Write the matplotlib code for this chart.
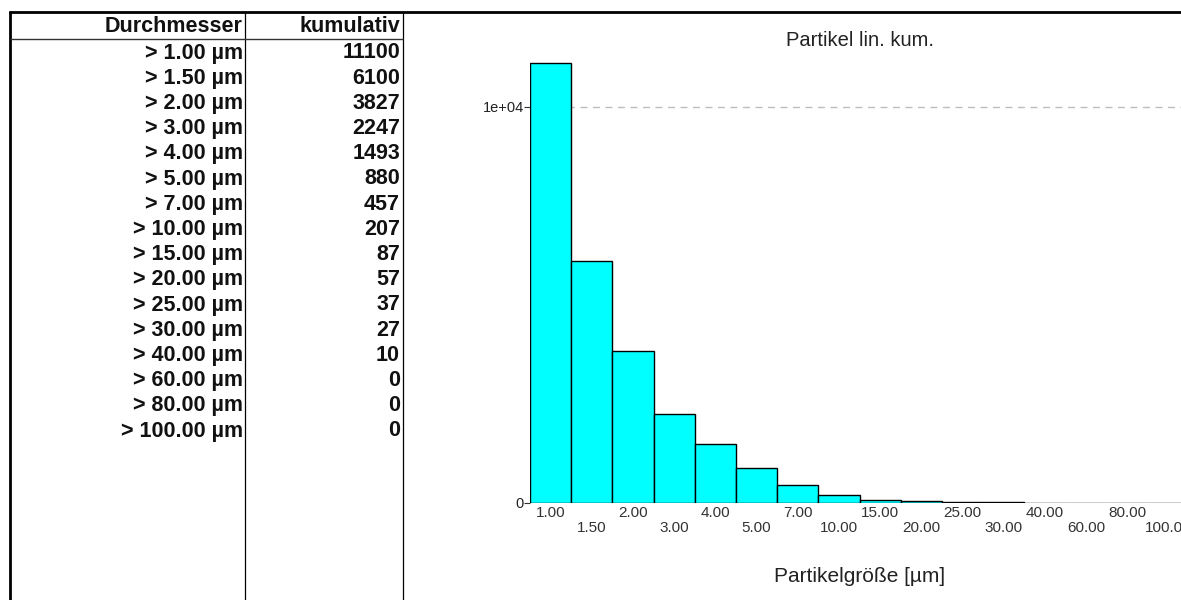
import matplotlib
matplotlib.use("Agg")
import matplotlib.pyplot as plt
from matplotlib.lines import Line2D

plt.rcParams['font.family'] = ['Liberation Sans', 'DejaVu Sans']

# ---- data ----
diameters = ["1.00", "1.50", "2.00", "3.00", "4.00", "5.00", "7.00", "10.00",
             "15.00", "20.00", "25.00", "30.00", "40.00", "60.00", "80.00", "100.00"]
cumulative = [11100, 6100, 3827, 2247, 1493, 880, 457, 207,
              87, 57, 37, 27, 10, 0, 0, 0]
col_headers = ["Durchmesser", "kumulativ"]
title = "Partikel lin. kum."
xlabel = "Partikelgröße [µm]"
ytick_vals = [0, 10000]
ytick_labels = ["0", "1e+04"]

W, H = 1181, 600
fig = plt.figure(figsize=(W / 100, H / 100), dpi=100)
fig.patch.set_facecolor("white")


def fx(px):
    return px / W


def fy(py):
    return 1 - py / H


# ---- table frame lines ----
def hline(y, x0, x1, lw, color="black"):
    fig.add_artist(Line2D([fx(x0), fx(x1)], [fy(y), fy(y)], transform=fig.transFigure,
                          color=color, lw=lw, solid_capstyle="butt"))


def vline(x, y0, y1, lw, color="black"):
    fig.add_artist(Line2D([fx(x), fx(x)], [fy(y0), fy(y1)], transform=fig.transFigure,
                          color=color, lw=lw, solid_capstyle="butt"))


hline(12, 9, W, 2.0)
vline(10, 11, H, 2.0)
vline(245, 12, H, 0.9)
vline(403, 12, H, 0.9)
hline(39, 10, 403, 1.0, color="#333333")

# ---- table text ----
tfs = 15.5
fig.text(fx(243), fy(27), col_headers[0], ha="right", va="center", fontsize=tfs,
         fontweight="bold", color="#111111")
fig.text(fx(400), fy(27), col_headers[1], ha="right", va="center", fontsize=tfs,
         fontweight="bold", color="#111111")
row0, dy = 53, 25.2
for i, (d, c) in enumerate(zip(diameters, cumulative)):
    y = row0 + i * dy
    fig.text(fx(243), fy(y), f"> {d} µm", ha="right", va="center", fontsize=tfs,
             fontweight="bold", color="#111111")
    fig.text(fx(400), fy(y), f"{c}", ha="right", va="center", fontsize=tfs,
             fontweight="bold", color="#111111")

# ---- chart ----
n = len(cumulative)
bar_px = 41.2
left_px = 530
base_px = 503
ymax = 12000
px_per_unit = (503 - 107) / 10000
top_px = base_px - ymax * px_per_unit
ax = fig.add_axes([fx(left_px), fy(base_px), (n * bar_px) / W, (base_px - top_px) / H])
ax.set_facecolor("none")
for s in ax.spines.values():
    s.set_visible(False)

xs = list(range(n))
ax.bar(xs, cumulative, width=1.0, align="edge", color="#00FFFF",
       edgecolor="black", linewidth=1.0, zorder=2)
ax.set_xlim(0, n)
ax.set_ylim(0, ymax)

ax.axhline(10000, color="#bdbdbd", lw=1.0, linestyle=(0, (5, 4)), zorder=1)

ax.set_yticks(ytick_vals)
ax.set_yticklabels(ytick_labels)
ax.tick_params(axis="y", length=4, width=0.8, color="#333333", pad=0.5,
               labelsize=10.5, labelcolor="#222222")

even = [i for i in xs if i % 2 == 0]
odd = [i for i in xs if i % 2 == 1]
ax.set_xticks([i + 0.5 for i in even])
ax.set_xticklabels([diameters[i] for i in even])
ax.set_xticks([i + 0.5 for i in odd], minor=True)
ax.set_xticklabels([diameters[i] for i in odd], minor=True)
ax.tick_params(axis="x", which="major", length=0, pad=2.2, labelsize=11, labelcolor="#333333")
ax.tick_params(axis="x", which="minor", length=0, pad=12.8, labelsize=11, labelcolor="#333333")

fig.text(fx(860), fy(40), title, ha="center", va="center", fontsize=14.5, color="#222222")
fig.text(fx(860), fy(576), xlabel, ha="center", va="center", fontsize=15, color="#222222")

fig.savefig("out.png", dpi=100, facecolor="white")
